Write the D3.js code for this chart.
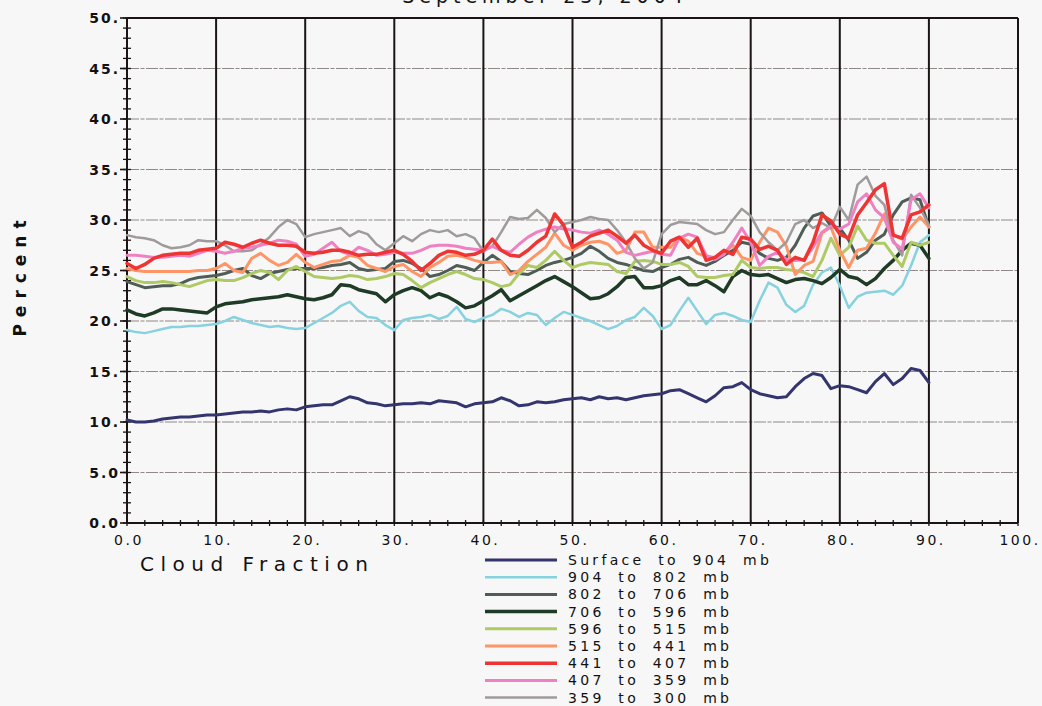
<!DOCTYPE html>
<html>
<head>
<meta charset="utf-8">
<script src="https://cdn.jsdelivr.net/npm/d3@7/dist/d3.min.js"></script>
<style>
  body { margin: 0; background: #f7f7f7; }
  svg { display: block; }
  text { fill: #111; }
</style>
</head>
<body>
<svg id="chart" width="1042" height="706"></svg>
<script>
// cloud fraction (x) in percent, one sample per unit
const cloudFraction = d3.range(0, 91);

const surfaceTo904 = [10.2,10.0,10.0,10.1,10.3,10.4,10.5,10.5,10.6,10.7,10.7,
  10.8,10.9,11.0,11.0,11.1,11.0,11.2,11.3,11.2,11.5,11.6,11.7,11.7,12.1,12.5,12.3,11.9,11.8,11.6,11.7,
  11.8,11.8,11.9,11.8,12.1,12.0,11.9,11.5,11.8,11.9,12.0,12.4,12.1,11.6,11.7,12.0,11.9,12.0,12.2,12.3,
  12.4,12.2,12.5,12.3,12.4,12.2,12.4,12.6,12.7,12.8,13.1,13.2,12.8,12.4,12.0,12.6,13.4,13.5,13.9,13.2,
  12.8,12.6,12.4,12.5,13.5,14.3,14.8,14.6,13.3,13.6,13.5,13.2,12.9,14.0,14.8,13.7,14.3,15.3,15.1,13.9];

const mb904to802 = [19.1,18.9,18.8,19.0,19.2,19.4,19.4,19.5,19.5,19.6,19.7,
  20.0,20.4,20.1,19.8,19.6,19.4,19.5,19.3,19.2,19.3,19.8,20.3,20.8,21.5,21.9,21.0,20.4,20.3,19.6,19.1,
  20.1,20.3,20.4,20.6,20.2,20.5,21.4,20.2,19.9,20.3,20.6,21.2,20.9,20.4,20.8,20.6,19.6,20.3,20.9,20.6,
  20.3,20.0,19.6,19.2,19.5,20.1,20.4,21.3,20.5,19.2,19.6,21.0,22.3,21.0,19.7,20.6,20.8,20.5,20.1,19.9,
  22.0,23.8,23.3,21.6,20.9,21.5,23.6,24.8,25.3,23.5,21.3,22.4,22.8,22.9,23.0,22.6,23.5,25.5,27.8,28.5];

const mb802to706 = [23.9,23.6,23.3,23.4,23.5,23.5,23.7,24.1,24.3,24.4,24.5,
  24.7,25.0,25.2,24.5,24.2,24.7,24.9,25.1,25.2,25.2,25.2,25.3,25.5,25.6,25.8,25.2,25.0,25.1,25.2,25.9,
  26.0,25.7,25.2,24.4,24.6,25.0,25.5,25.3,25.0,25.8,26.5,25.9,24.9,24.7,24.6,25.0,25.5,25.8,26.0,26.3,
  26.7,27.4,26.9,26.2,25.8,25.6,25.3,25.0,24.9,25.3,25.6,26.1,26.3,25.8,25.5,25.9,26.5,27.0,27.8,27.6,
  26.7,26.2,26.0,26.3,27.5,29.2,30.4,30.7,29.4,29.2,28.0,26.2,26.8,28.0,28.6,30.5,31.8,32.2,32.0,29.3];

const mb706to596 = [21.1,20.7,20.5,20.8,21.2,21.2,21.1,21.0,20.9,20.8,21.4,
  21.7,21.8,21.9,22.1,22.2,22.3,22.4,22.6,22.4,22.2,22.1,22.3,22.6,23.6,23.5,23.1,22.9,22.7,21.9,22.6,
  23.0,23.3,23.0,22.3,22.7,22.4,21.9,21.3,21.5,22.0,22.5,23.1,22.0,22.5,23.0,23.5,24.0,24.4,23.9,23.4,
  22.8,22.2,22.3,22.7,23.4,24.3,24.4,23.3,23.3,23.5,24.0,24.3,23.6,23.6,24.0,23.5,22.9,24.4,25.0,24.6,
  24.5,24.6,24.2,23.8,24.1,24.2,24.0,23.7,24.3,25.1,24.4,24.2,23.6,24.2,25.2,26.0,27.0,27.7,27.5,26.2];

const mb596to515 = [24.4,24.0,23.8,23.8,23.9,23.8,23.6,23.4,23.7,24.0,24.1,
  24.0,24.0,24.3,24.7,25.0,24.8,24.1,25.0,25.4,24.9,24.4,24.3,24.2,24.3,24.5,24.4,24.1,24.2,24.4,24.7,
  24.6,24.0,23.3,23.8,24.2,24.6,24.9,24.6,24.2,24.1,23.8,23.4,23.6,24.7,25.5,25.3,26.0,26.9,26.0,25.3,
  25.6,25.8,25.7,25.6,24.9,24.7,25.9,26.0,25.9,25.6,25.6,25.8,25.4,24.4,24.3,24.3,24.5,24.6,26.0,25.3,
  25.2,25.3,25.3,25.1,25.0,24.8,24.4,26.0,28.2,26.5,27.3,29.4,28.0,27.7,27.7,26.5,25.4,27.8,27.5,27.8];

const mb515to441 = [25.2,25.0,24.9,24.9,24.9,24.9,24.9,24.9,25.0,25.0,25.2,
  25.7,25.0,24.8,26.2,26.7,26.0,25.5,25.8,26.6,25.8,25.3,25.6,25.9,26.0,26.5,26.3,25.5,25.2,24.9,25.4,
  25.6,24.9,24.4,25.3,25.8,26.4,26.5,26.3,26.0,25.8,25.8,25.9,24.6,25.0,25.9,26.6,27.3,28.7,27.5,27.0,
  27.5,27.8,27.9,27.6,26.7,27.0,28.8,28.8,27.3,27.3,27.3,28.3,27.9,26.7,26.4,26.3,26.8,27.5,26.3,26.0,
  27.8,29.2,28.8,27.4,24.6,25.5,25.9,28.7,29.3,27.0,25.3,27.0,27.2,28.7,30.6,28.5,28.1,29.3,30.3,29.3];

const mb441to407 = [25.7,25.2,25.6,26.2,26.5,26.6,26.7,26.7,27.0,27.1,27.2,
  27.8,27.6,27.3,27.7,28.0,27.7,27.5,27.5,27.4,26.8,26.7,26.8,27.0,27.0,26.8,26.5,26.6,26.6,26.8,27.0,
  26.6,25.9,25.0,25.7,26.5,26.9,26.8,26.5,26.6,27.0,28.1,27.0,26.5,26.4,27.0,27.8,28.4,30.6,29.5,27.3,
  27.8,28.4,28.7,29.0,28.4,27.7,28.5,27.5,27.0,26.7,27.9,28.3,27.3,28.2,26.0,26.3,27.0,26.6,28.3,28.1,
  27.1,27.4,27.0,25.6,26.3,26.0,27.8,30.5,29.9,28.6,28.2,30.5,31.7,33.0,33.6,28.5,28.2,30.5,30.8,31.5];

const mb407to359 = [26.5,26.5,26.4,26.3,26.3,26.4,26.5,26.4,26.7,27.0,26.9,
  26.7,26.9,27.2,27.3,27.5,27.7,28.0,27.9,27.6,26.4,26.6,27.2,27.8,26.9,26.6,27.3,27.0,26.5,26.6,26.8,
  26.7,26.7,27.0,27.4,27.5,27.5,27.4,27.2,27.1,27.0,27.4,27.0,26.8,27.6,28.3,28.8,29.1,29.3,29.1,29.0,
  28.8,28.7,29.0,28.6,28.0,26.8,26.5,26.7,26.9,26.6,26.5,28.2,28.6,28.3,26.5,26.1,26.6,27.8,29.2,27.8,
  25.5,26.4,26.8,26.1,26.0,26.1,27.3,28.8,29.4,29.1,29.6,31.8,32.6,31.0,30.2,27.8,27.1,32.0,32.6,31.2];

const mb359to300 = [28.5,28.3,28.2,28.0,27.5,27.2,27.3,27.5,28.0,27.9,27.9,
  27.5,26.9,26.9,27.0,27.6,28.3,29.3,30.0,29.6,28.3,28.6,28.8,29.0,29.2,28.4,28.9,28.6,27.6,27.0,27.7,
  28.4,27.9,28.6,29.0,28.8,29.0,28.4,28.6,28.2,26.9,27.4,28.8,30.3,30.1,30.2,31.0,30.2,28.8,29.6,29.8,
  30.0,30.3,30.1,30.0,29.0,27.8,26.2,25.2,25.8,28.6,29.5,29.8,29.7,29.6,29.0,28.6,28.8,30.0,31.1,30.4,
  28.8,27.8,27.0,27.8,29.6,30.0,29.2,29.7,29.2,31.3,30.0,33.5,34.3,32.4,31.5,28.0,26.5,32.5,31.2,29.5];

const layerNames = ['Surface to 904 mb', '904 to 802 mb', '802 to 706 mb', '706 to 596 mb',
  '596 to 515 mb', '515 to 441 mb', '441 to 407 mb', '407 to 359 mb', '359 to 300 mb'];
const layerValues = [surfaceTo904, mb904to802, mb802to706, mb706to596,
  mb596to515, mb515to441, mb441to407, mb407to359, mb359to300];
const layerColors = ['#34346f', '#86d2df', '#4f5d56', '#1f3b26',
  '#afc965', '#ff9566', '#ef3434', '#ef80c2', '#a09b9b'];
const layerWidths = [3, 2.5, 3, 3.5, 3, 3, 3.5, 3, 2.5];
// which layer goes on top
const drawOrder = [0, 1, 2, 3, 4, 5, 8, 7, 6];

const yTicks = [0, 5, 10, 15, 20, 25, 30, 35, 40, 45, 50];
const yTickLabels = ['0.0', '5.0', '10.', '15.', '20.', '25.', '30.', '35.', '40.', '45.', '50.'];
const xTicks = [0, 10, 20, 30, 40, 50, 60, 70, 80, 90, 100];
const xTickLabels = ['0.0', '10.', '20.', '30.', '40.', '50.', '60.', '70.', '80.', '90.', '100.'];

const svg = d3.select('#chart');

const x = d3.scaleLinear().domain([0, 100]).range([127, 1018]);
const y = d3.scaleLinear().domain([0, 50]).range([523, 18]);

// title, mostly cut off by the top of the page
svg.append('text')
  .attr('x', 545).attr('y', 3)
  .attr('text-anchor', 'middle')
  .style('font-family', 'DejaVu Sans')
  .style('font-size', '19px')
  .style('letter-spacing', '5px')
  .text('September 23, 2004');

// horizontal grid (thin, broken)
svg.append('g')
  .selectAll('line')
  .data(yTicks.slice(1, -1))
  .enter()
  .append('line')
  .attr('x1', x(0)).attr('x2', x(100))
  .attr('y1', (d) => y(d)).attr('y2', (d) => y(d))
  .attr('stroke', '#857a7a')
  .attr('stroke-width', 0.9)
  .attr('stroke-dasharray', '12,1.5,4,1.5');

// vertical grid (solid)
svg.append('g')
  .selectAll('line')
  .data(xTicks)
  .enter()
  .append('line')
  .attr('x1', (d) => x(d)).attr('x2', (d) => x(d))
  .attr('y1', y(0)).attr('y2', y(50))
  .attr('stroke', '#1a1414')
  .attr('stroke-width', 2);

// top border
svg.append('line')
  .attr('x1', x(0)).attr('x2', x(100))
  .attr('y1', y(50)).attr('y2', y(50))
  .attr('stroke', '#1a1414').attr('stroke-width', 1.8);

// bottom axis line
svg.append('line')
  .attr('x1', x(0)).attr('x2', x(100))
  .attr('y1', y(0)).attr('y2', y(0))
  .attr('stroke', '#1a1414').attr('stroke-width', 1.8);

// minor ticks crossing the axes
svg.append('g')
  .selectAll('line')
  .data(d3.range(0, 51, 1))
  .enter()
  .append('line')
  .attr('x1', x(0) - 4).attr('x2', x(0) + 4)
  .attr('y1', (d) => y(d)).attr('y2', (d) => y(d))
  .attr('stroke', '#1a1414').attr('stroke-width', 1.3);

svg.append('g')
  .selectAll('line')
  .data(d3.range(0, 101, 2))
  .enter()
  .append('line')
  .attr('x1', (d) => x(d)).attr('x2', (d) => x(d))
  .attr('y1', y(0) - 3).attr('y2', y(0) + 3)
  .attr('stroke', '#1a1414').attr('stroke-width', 1.3);

// major y ticks extend a bit more
svg.append('g')
  .selectAll('line')
  .data(yTicks)
  .enter()
  .append('line')
  .attr('x1', x(0) - 7).attr('x2', x(0))
  .attr('y1', (d) => y(d)).attr('y2', (d) => y(d))
  .attr('stroke', '#1a1414').attr('stroke-width', 1.6);

// tick labels
svg.append('g')
  .selectAll('text')
  .data(yTicks)
  .enter()
  .append('text')
  .attr('x', 120)
  .attr('y', (d) => y(d) + 5)
  .attr('text-anchor', 'end')
  .style('font-family', 'DejaVu Sans')
  .style('font-weight', 'bold')
  .style('font-size', '14px')
  .style('letter-spacing', '2px')
  .text((d, i) => yTickLabels[i]);

svg.append('g')
  .selectAll('text')
  .data(xTicks)
  .enter()
  .append('text')
  .attr('x', (d) => x(d) + 2)
  .attr('y', y(0) + 22)
  .attr('text-anchor', 'middle')
  .style('font-family', 'DejaVu Sans')
  .style('font-size', '14px')
  .style('letter-spacing', '2.5px')
  .text((d, i) => xTickLabels[i]);

// axis titles
svg.append('text')
  .attr('x', 140).attr('y', 571)
  .style('font-family', 'DejaVu Sans')
  .style('font-size', '20px')
  .style('letter-spacing', '6.5px')
  .text('Cloud Fraction');

svg.append('text')
  .attr('transform', 'translate(26,275) rotate(-90)')
  .attr('text-anchor', 'middle')
  .style('font-family', 'DejaVu Sans')
  .style('font-weight', 'bold')
  .style('font-size', '17px')
  .style('letter-spacing', '7px')
  .text('Percent');

// data lines
const line = d3.line()
  .x((d, i) => x(cloudFraction[i]))
  .y((d) => y(d));

svg.append('g')
  .selectAll('path')
  .data(drawOrder)
  .enter()
  .append('path')
  .attr('d', (k) => line(layerValues[k]))
  .attr('fill', 'none')
  .attr('stroke', (k) => layerColors[k])
  .attr('stroke-width', (k) => layerWidths[k])
  .attr('stroke-linejoin', 'round')
  .attr('stroke-linecap', 'round');

// legend
const legend = svg.append('g')
  .selectAll('g')
  .data(layerNames)
  .enter()
  .append('g')
  .attr('transform', (d, i) => `translate(0,${560 + i * 17.2})`);

legend.append('line')
  .attr('x1', 485).attr('x2', 557)
  .attr('y1', 0).attr('y2', 0)
  .attr('stroke', (d, i) => layerColors[i])
  .attr('stroke-width', (d, i) => layerWidths[i]);

legend.append('text')
  .attr('x', 568).attr('y', 5)
  .style('font-family', 'DejaVu Sans')
  .style('font-size', '14px')
  .style('letter-spacing', '3.3px')
  .style('word-spacing', '6px')
  .text((d) => d);
</script>
</body>
</html>
